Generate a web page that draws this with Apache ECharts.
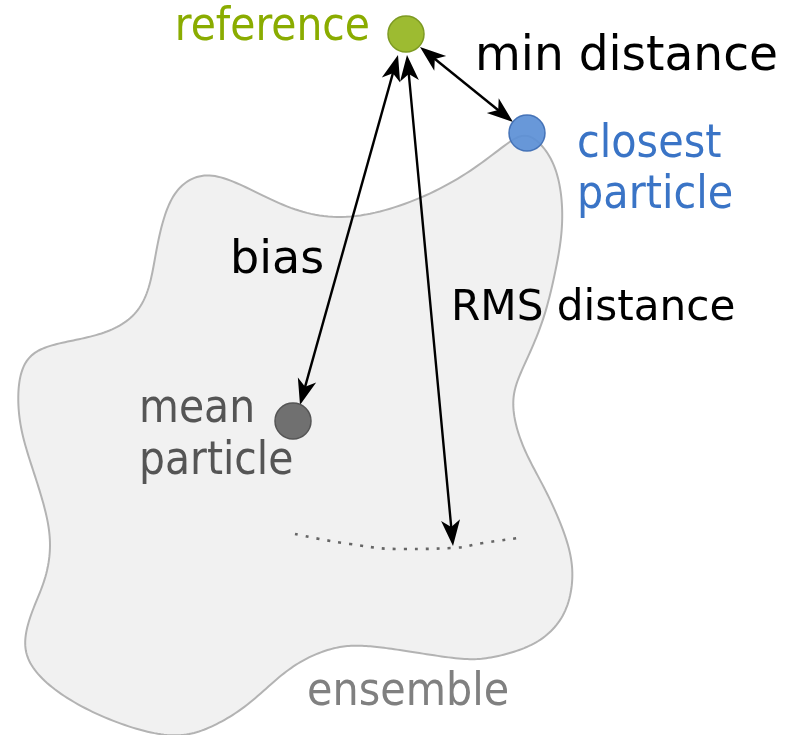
<!DOCTYPE html>
<html><head><meta charset="utf-8">
<script src="https://cdn.jsdelivr.net/npm/echarts@6/dist/echarts.min.js"></script>
<style>html,body{margin:0;padding:0;background:#fff}#c{width:788px;height:735px}</style>
</head><body><div id="c"></div>
<script>
// ensemble outline control points (diagram units = pixels of reference)
const blobX = [527,552,562,563,556,545,530,517,512,515,526,546,564,575,569,548,520,487,463,413,380,356,335,307,280,247,213,185,150,100,55,28,23,32,46,52,46,33,20,17,22,38,70,105,135,150,156,165,180,208,245,290,340,400,460,505];
const blobY = [129,155,190,230,270,317,353,380,400,425,455,490,530,568,610,637,651,659,660,652,647,645,647,657,675,707,727,737,734,717,692,665,640,610,580,545,510,470,430,393,364,348,341,334,318,290,250,210,183,171,186,210,221,208,180,145];
// particles
const particleNames = ['reference','closest particle','mean particle'];
const particleX = [406, 527, 293];
const particleY = [34, 133, 421];
// double arrows
const arrowNames = ['bias','RMS distance','min distance'];
const arrowFromX = [398, 407, 420];
const arrowFromY = [55, 55, 47];
const arrowToX = [300, 453, 513];
const arrowToY = [405, 546, 122];
// dotted arc
const arcX = [295, 350, 403, 452, 483, 518];
const arcY = [534, 544, 549, 548, 543, 538];

const chart = echarts.init(document.getElementById('c'), null, {renderer:'canvas'});

function txt(text, x, baseline, fs, color, align, sx) {
  return {type:'text', x: x, y: baseline - 0.27*fs, z: 100, scaleX: sx || 1,
    style:{text:text, fontSize:fs, fontFamily:'DejaVu Sans', fill:color, align: align||'left', verticalAlign:'middle'}};
}

// closed uniform cubic B-spline through control points (pixel space)
function closedBSpline(pts, steps){
  const n = pts.length, out = [];
  for (let i=0;i<n;i++){
    const p0=pts[(i-1+n)%n], p1=pts[i], p2=pts[(i+1)%n], p3=pts[(i+2)%n];
    for (let s=0;s<steps;s++){
      const t=s/steps, t2=t*t, t3=t2*t, mt=1-t;
      const b0=mt*mt*mt/6, b1=(3*t3-6*t2+4)/6, b2=(-3*t3+3*t2+3*t+1)/6, b3=t3/6;
      out.push([b0*p0[0]+b1*p1[0]+b2*p2[0]+b3*p3[0], b0*p0[1]+b1*p1[1]+b2*p2[1]+b3*p3[1]]);
    }
  }
  return out;
}

const particleColors = ['#9dbb31','#5b8fd6','#707070'];
const particleBorders = ['#7d9a22','#3e6db3','#555555'];

chart.setOption({
  animation:false,
  backgroundColor:'#ffffff',
  grid:{left:0,right:0,top:0,bottom:0},
  xAxis:{type:'value',min:0,max:788,show:false},
  yAxis:{type:'value',min:0,max:735,inverse:true,show:false},
  series:[
    {
      type:'custom', name:'ensemble', z:1,
      data:[[0,0]],
      renderItem:function(params, api){
        const pts = blobX.map((x,i)=>api.coord([x, blobY[i]]));
        return {type:'polygon', shape:{points:closedBSpline(pts, 12)},
          style:{fill:'#f1f1f1', stroke:'#b3b3b3', lineWidth:2}};
      }
    },
    {
      type:'line', name:'arc', z:2, smooth:true, symbol:'none',
      data: arcX.map((x,i)=>[x, arcY[i]]),
      lineStyle:{color:'#666666', width:2.6, type:[3,8]}
    },
    {
      type:'custom', name:'arrows', z:3,
      data: arrowFromX.map((x,i)=>[x, arrowFromY[i], arrowToX[i], arrowToY[i]]),
      renderItem:function(params, api){
        const p0 = api.coord([api.value(0), api.value(1)]);
        const p1 = api.coord([api.value(2), api.value(3)]);
        const dx = p1[0]-p0[0], dy = p1[1]-p0[1];
        const len = Math.sqrt(dx*dx+dy*dy);
        const ux = dx/len, uy = dy/len, nx = -uy, ny = ux;
        const L = 26, W = 19, N = 7;
        function head(tip, sx, sy){
          const bx = tip[0] - sx*L, by = tip[1] - sy*L;
          return {type:'polygon', shape:{points:[
            tip,
            [bx + nx*W/2, by + ny*W/2],
            [tip[0] - sx*(L-N), tip[1] - sy*(L-N)],
            [bx - nx*W/2, by - ny*W/2]
          ]}, style:{fill:'#000'}};
        }
        return {type:'group', children:[
          {type:'line', shape:{x1:p0[0]+ux*(L-N-1), y1:p0[1]+uy*(L-N-1), x2:p1[0]-ux*(L-N-1), y2:p1[1]-uy*(L-N-1)},
           style:{stroke:'#000', lineWidth:2.4}},
          head(p1, ux, uy),
          head(p0, -ux, -uy)
        ]};
      }
    },
    {
      type:'scatter', name:'particles', z:4,
      symbolSize:36,
      data: particleX.map((x,i)=>({name:particleNames[i], value:[x, particleY[i]],
        itemStyle:{color:particleColors[i], borderColor:particleBorders[i], borderWidth:1.5, opacity: i===1?0.92:1}}))
    }
  ],
  graphic:[
    txt('reference', 370, 40, 47, '#8aac00', 'right', 0.87),
    txt('min distance', 475, 70, 48, '#000000', 'left', 0.98),
    txt('closest', 577, 157, 46, '#3a74c6', 'left', 0.9),
    txt('particle', 577, 208, 46, '#3a74c6', 'left', 0.9),
    txt('bias', 230, 273, 46, '#000000'),
    txt('RMS distance', 451, 320, 43, '#000000', 'left', 0.98),
    txt('mean', 139, 422, 46, '#555555', 'left', 0.89),
    txt('particle', 139, 474, 46, '#555555', 'left', 0.89),
    txt('ensemble', 307, 705, 47, '#808080', 'left', 0.88)
  ]
});
</script>
</body></html>
